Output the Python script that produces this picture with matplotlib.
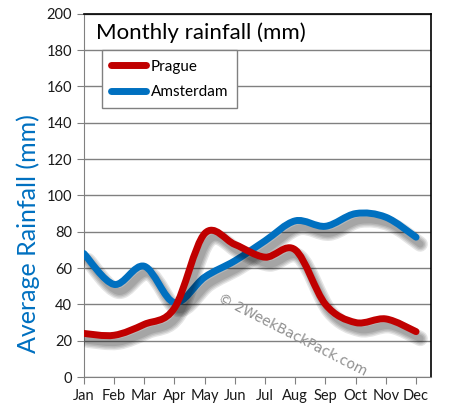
import numpy as np
import matplotlib
matplotlib.use("Agg")
import matplotlib.pyplot as plt
from matplotlib.path import Path
from matplotlib.patches import PathPatch
from matplotlib.lines import Line2D
import matplotlib.patheffects as pe

months = ['Jan', 'Feb', 'Mar', 'Apr', 'May', 'Jun', 'Jul', 'Aug', 'Sep', 'Oct', 'Nov', 'Dec']
prague = [24, 23, 29, 38, 79, 73, 66, 70, 40, 30, 32, 25]
amsterdam = [68, 51, 61, 41, 55, 64, 75, 86, 83, 90, 88, 77]

red = '#c00000'
blue = '#0070c0'
font = 'Lato'


def smooth_path(xs, ys):
    # excel-like smoothed line as cubic bezier segments
    p = np.column_stack([xs, ys]).astype(float)
    n = len(p)
    verts = [p[0]]
    codes = [Path.MOVETO]
    for i in range(n - 1):
        p0 = p[i - 1] if i > 0 else p[i]
        p3 = p[i + 2] if i + 2 < n else p[i + 1]
        c1 = p[i] + (p[i + 1] - p0) / 6
        c2 = p[i + 1] - (p3 - p[i]) / 6
        verts += [c1, c2, p[i + 1]]
        codes += [Path.CURVE4] * 3
    return Path(verts, codes)


fig = plt.figure(figsize=(4.51, 4.18), dpi=100)
ax = fig.add_axes([0.186, 0.098, 0.770, 0.869])

x = np.arange(len(months))
shadow = [pe.SimpleLineShadow(offset=(3, -5), shadow_color='k', alpha=0.10, linewidth=w)
          for w in (11, 9, 7, 5)] + [pe.Normal()]

for vals, col in ((amsterdam, blue), (prague, red)):
    patch = PathPatch(smooth_path(x, vals), facecolor='none', edgecolor=col, lw=5,
                      capstyle='round', joinstyle='round', zorder=3)
    patch.set_path_effects(shadow)
    ax.add_patch(patch)

ax.set_xlim(0, 11.5)
ax.set_ylim(0, 200)
ax.set_yticks(range(0, 201, 20))
ax.set_xticks(x)
ax.set_xticklabels(months)
ax.grid(axis='y', color='#808080', lw=1)
ax.set_axisbelow(True)
for s in ('left', 'bottom'):
    ax.spines[s].set_color('#808080')
for s in ('top', 'right'):
    ax.spines[s].set_color('black')
    ax.spines[s].set_linewidth(1.2)
ax.tick_params(colors='#808080', labelcolor='#1a1a1a', length=5, labelsize=10.5)
for lab in ax.get_xticklabels() + ax.get_yticklabels():
    lab.set_family(font)

ax.set_ylabel('Average Rainfall (mm)', color=blue, fontsize=18, family=font)
ax.yaxis.set_label_coords(-0.125, 0.394)
ax.text(0.035, 0.975, 'Monthly rainfall (mm)', transform=ax.transAxes, fontsize=16,
        family=font, va='top', ha='left')

handles = [Line2D([], [], color=red, lw=5, solid_capstyle='round'),
           Line2D([], [], color=blue, lw=5, solid_capstyle='round')]
leg = ax.legend(handles, ['Prague', 'Amsterdam'], loc='upper left', bbox_to_anchor=(0.029, 0.92),
                fancybox=False, edgecolor='#808080', framealpha=1, handlelength=2.3,
                prop={'family': font, 'size': 11}, borderpad=0.6, labelspacing=0.75,
                handletextpad=0.3)
leg.get_frame().set_linewidth(1)

ax.text(0.6, 0.116, '\u00a9 2WeekBackPack.com', transform=ax.transAxes, rotation=-27,
        color='#909090', fontsize=10, family='DejaVu Sans', ha='center', va='center',
        zorder=4)

fig.savefig('out.png', dpi=100)
